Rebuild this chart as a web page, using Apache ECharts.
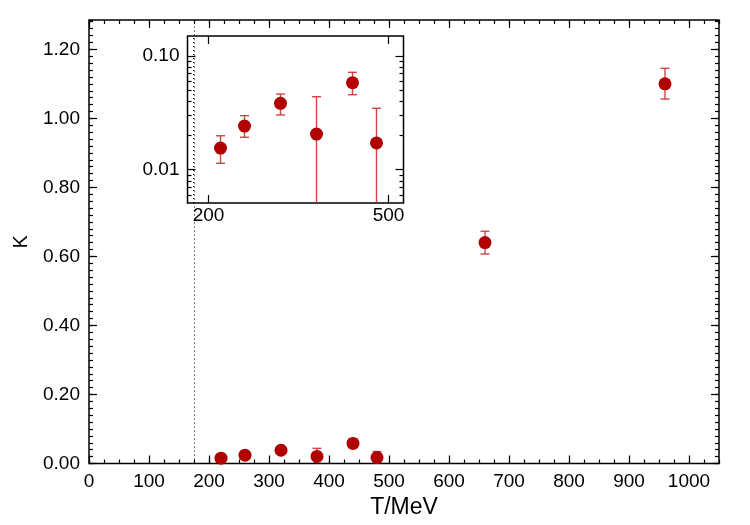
<!DOCTYPE html>
<html>
<head>
<meta charset="utf-8">
<script src="https://cdn.jsdelivr.net/npm/echarts@6/dist/echarts.min.js"></script>
<style>
  html, body { margin: 0; padding: 0; background: #fff; }
  #chart { width: 750px; height: 525px; }
</style>
</head>
<body>
<div id="chart"></div>
<script>
// temperature of each point (MeV) and the measured K value with its error range
const temps = [220, 260, 320, 380, 440, 480, 660, 960];
const kappa = [0.0155, 0.0242, 0.0384, 0.0206, 0.0582, 0.0172, 0.640, 1.100];
const errHi = [0.0199, 0.0299, 0.0463, 0.0439, 0.0719, 0.0347, 0.673, 1.145];
const errLo = [0.0114, 0.0193, 0.0303, 0, 0.0457, 0, 0.607, 1.056];
const insetCount = 6;
const tc = 175;

const xTicks = [0, 100, 200, 300, 400, 500, 600, 700, 800, 900, 1000];
const yTicks = [0, 0.2, 0.4, 0.6, 0.8, 1.0, 1.2];
const insetXTicks = [200, 500];
const insetYTicks = [0.01, 0.1];
const insetYMinor = [0.006, 0.007, 0.008, 0.009, 0.02, 0.03, 0.04, 0.05, 0.06, 0.07, 0.08, 0.09];

const X_MAX = 1050, Y_MAX = 1.285;
const IN_X = [165, 525], IN_Y = [0.0051, 0.15];
const DOT = '#b00000';
const ERR = 'rgba(200, 40, 40, 0.85)';
const FONT = 'Liberation Sans, Arial, Helvetica, sans-serif';
const LABEL_SIZE = 19;
const tickLine = { color: '#000', width: 1.2 };

function fmt2(v) { return Number(v).toFixed(2); }

function mainAxis(dim, position, major) {
  const isX = dim === 'x';
  const labelled = major && (position === 'bottom' || position === 'left');
  return {
    type: 'value', gridIndex: 0, position,
    min: 0, max: isX ? X_MAX : Y_MAX,
    interval: isX ? (major ? 100 : 25) : (major ? 0.2 : 0.02),
    axisLine: { show: false, onZero: false },
    axisTick: Object.assign({ show: true, inside: true, length: major ? 8 : 4, lineStyle: tickLine },
      major ? { customValues: isX ? xTicks : yTicks } : {}),
    axisLabel: Object.assign({
      show: labelled, fontFamily: FONT, fontSize: LABEL_SIZE, color: '#000', margin: 9,
      formatter: isX ? (v => String(v)) : fmt2
    }, labelled ? { customValues: isX ? xTicks : yTicks } : {}),
    splitLine: { show: false }
  };
}

function insetY(position, major) {
  const labelled = major && position === 'left';
  return {
    type: 'log', logBase: 10, gridIndex: 1, position,
    min: IN_Y[0], max: IN_Y[1],
    axisLine: { show: false, onZero: false },
    axisTick: { show: true, inside: true, length: major ? 8 : 4, lineStyle: tickLine,
      customValues: major ? insetYTicks : insetYMinor },
    axisLabel: Object.assign({ show: labelled, fontFamily: FONT, fontSize: LABEL_SIZE, color: '#000', margin: 8, formatter: fmt2 },
      labelled ? { customValues: insetYTicks } : {}),
    minorTick: { show: false },
    splitLine: { show: false }
  };
}

function insetX(position) {
  const labelled = position === 'bottom';
  return {
    type: 'value', gridIndex: 1, position,
    min: IN_X[0], max: IN_X[1],
    axisLine: { show: false, onZero: false },
    axisTick: { show: true, inside: true, length: 8, lineStyle: tickLine, customValues: insetXTicks },
    axisLabel: Object.assign({ show: labelled, fontFamily: FONT, fontSize: LABEL_SIZE, color: '#000', margin: 3 },
      labelled ? { customValues: insetXTicks } : {}),
    splitLine: { show: false }
  };
}

function errorBars(log, yMin) {
  return function (params, api) {
    const x = api.value(0);
    const hi = api.value(1);
    const lo = api.value(2);
    const clipped = lo <= 0 || (log && lo < yMin);
    const top = api.coord([x, hi]);
    const bot = api.coord([x, clipped ? yMin : lo]);
    const hw = 4.5;
    const style = { stroke: ERR, lineWidth: 1.4 };
    const children = [
      { type: 'line', shape: { x1: top[0], y1: top[1], x2: bot[0], y2: bot[1] }, style },
      { type: 'line', shape: { x1: top[0] - hw, y1: top[1], x2: top[0] + hw, y2: top[1] }, style }
    ];
    if (!clipped) children.push({ type: 'line', shape: { x1: bot[0] - hw, y1: bot[1], x2: bot[0] + hw, y2: bot[1] }, style });
    return { type: 'group', children };
  };
}

const mainErr = temps.map((t, i) => [t, errHi[i], errLo[i]]);
const mainPts = temps.map((t, i) => [t, kappa[i]]);
const insetErr = mainErr.slice(0, insetCount);
const insetPts = mainPts.slice(0, insetCount);

const tcLine = (yMin, yMax) => ({
  silent: true, symbol: 'none', animation: false,
  label: { show: false },
  lineStyle: { type: [1, 3], color: '#000', width: 1 },
  data: [[{ coord: [tc, yMin] }, { coord: [tc, yMax] }]]
});

const chart = echarts.init(document.getElementById('chart'), null, { renderer: 'canvas' });
chart.setOption({
  animation: false,
  backgroundColor: '#fff',
  grid: [
    { left: 89, top: 20, width: 630, height: 443.5, show: true, borderColor: '#000', borderWidth: 1.5, backgroundColor: 'transparent' },
    { left: 187.5, top: 36, width: 216, height: 167, show: true, borderColor: '#000', borderWidth: 1.5, backgroundColor: '#fff' }
  ],
  xAxis: [
    Object.assign(mainAxis('x', 'bottom', true), {
      name: 'T/MeV', nameLocation: 'middle', nameGap: 33,
      nameTextStyle: { fontFamily: FONT, fontSize: 23, color: '#000' }
    }),
    mainAxis('x', 'bottom', false),
    mainAxis('x', 'top', true),
    mainAxis('x', 'top', false),
    insetX('bottom'),
    insetX('top')
  ],
  yAxis: [
    Object.assign(mainAxis('y', 'left', true), {
      name: 'K', nameLocation: 'middle', nameGap: 58, nameRotate: 90,
      nameTextStyle: { fontFamily: FONT, fontSize: 20, color: '#000' }
    }),
    mainAxis('y', 'left', false),
    mainAxis('y', 'right', true),
    mainAxis('y', 'right', false),
    insetY('left', true),
    insetY('left', false),
    insetY('right', true),
    insetY('right', false)
  ],
  series: [
    {
      type: 'custom', xAxisIndex: 0, yAxisIndex: 0, data: mainErr,
      encode: { x: 0, y: [1, 2] }, renderItem: errorBars(false, 0),
      markLine: tcLine(0, Y_MAX), z: 2
    },
    {
      type: 'scatter', xAxisIndex: 0, yAxisIndex: 0, data: mainPts,
      symbol: 'circle', symbolSize: 13, itemStyle: { color: DOT, opacity: 1 }, z: 3
    },
    {
      type: 'custom', xAxisIndex: 4, yAxisIndex: 4, data: insetErr,
      encode: { x: 0, y: [1, 2] }, renderItem: errorBars(true, IN_Y[0]),
      markLine: tcLine(IN_Y[0], IN_Y[1]), z: 4
    },
    {
      type: 'scatter', xAxisIndex: 4, yAxisIndex: 4, data: insetPts,
      symbol: 'circle', symbolSize: 13, itemStyle: { color: DOT, opacity: 1 }, z: 5
    }
  ]
});
</script>
</body>
</html>
